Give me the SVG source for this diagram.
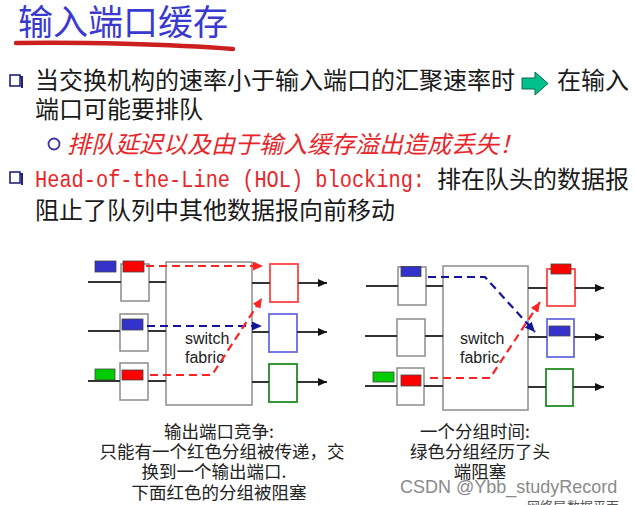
<svg xmlns="http://www.w3.org/2000/svg" width="635" height="505" viewBox="0 0 635 505">
<style>
.cjk{font-family:"Noto Sans CJK SC","Noto Sans",sans-serif}
.body{font-size:24px;fill:#1a1a1a}
.cap{font-size:17.5px;fill:#222;text-anchor:middle}
.sf{font-family:"Liberation Sans",Arial,sans-serif;font-size:16px;fill:#222}
.ibox{fill:#fff;stroke:#8c8c8c;stroke-width:1.5}
.fab{fill:#fff;stroke:#8c8c8c;stroke-width:1.5}
.ln{stroke:#333;stroke-width:2;fill:none}
.pk{stroke:#444;stroke-width:0.8}
.red{fill:#ff0000}
.blu{fill:#3333cc}
.grn{fill:#00cc00}
.obr{fill:#fff;stroke:#ff4444;stroke-width:1.8}
.obb{fill:#fff;stroke:#6a6ae0;stroke-width:1.8}
.obg{fill:#fff;stroke:#228b22;stroke-width:1.8}
.dr{stroke:#ff2222;stroke-width:2.2;stroke-dasharray:8 5;fill:none}
.db{stroke:#14149a;stroke-width:2.2;stroke-dasharray:8 5;fill:none}
.bul{fill:#fff;stroke:#22227a;stroke-width:1.6}
</style>
<defs>
<marker id="ak" markerWidth="9" markerHeight="8" refX="9" refY="4" orient="auto" markerUnits="userSpaceOnUse"><path d="M0,0 L9,4 L0,8 z" fill="#111"/></marker>
<marker id="ar" markerWidth="10" markerHeight="9" refX="10" refY="4.5" orient="auto" markerUnits="userSpaceOnUse"><path d="M0,0 L10,4.5 L0,9 z" fill="#ff2222"/></marker>
<marker id="ab" markerWidth="10" markerHeight="9" refX="10" refY="4.5" orient="auto" markerUnits="userSpaceOnUse"><path d="M0,0 L10,4.5 L0,9 z" fill="#14149a"/></marker>
</defs>

<g id="title">
<text x="18" y="35" class="cjk" font-size="35" fill="#3a3ad0">输入端口缓存</text>
<path d="M16,43 C80,42 170,44 233,49" stroke="#cc1f1f" stroke-width="4.5" fill="none" stroke-linecap="round"/>
</g>

<g id="bullets">
<path d="M12,77 H22 V88" stroke="#22227a" stroke-width="2" fill="none"/>
<rect x="10" y="75" width="10" height="11" class="bul"/>
<text x="35" y="89" class="cjk body">当交换机构的速率小于输入端口的汇聚速率时</text>
<path d="M522,78 H535 V72 L548,83.5 L535,95 V89 H522 Z" fill="#00c08c" stroke="#0a6a4a" stroke-width="1"/>
<text x="557" y="89" class="cjk body">在输入</text>
<text x="35" y="118" class="cjk body">端口可能要排队</text>
<circle cx="54" cy="144" r="5.5" fill="#fff" stroke="#3333aa" stroke-width="1.8"/>
<text x="67" y="153" class="cjk" font-size="24" fill="#e8262a" font-style="italic">排队延迟以及由于输入缓存溢出造成丢失！</text>
<path d="M12,174 H22 V185" stroke="#22227a" stroke-width="2" fill="none"/>
<rect x="10" y="172" width="10" height="11" class="bul"/>
<text x="35" y="187" font-family="'Liberation Mono',monospace" font-size="23" fill="#e8262a" textLength="390" lengthAdjust="spacingAndGlyphs">Head-of-the-Line (HOL) blocking:</text>
<text x="437" y="188" class="cjk body">排在队头的数据报</text>
<text x="35" y="219" class="cjk body">阻止了队列中其他数据报向前移动</text>
</g>

<g id="left-inputs">
<rect x="121" y="264" width="28" height="37" class="ibox"/>
<rect x="120" y="314" width="28" height="37" class="ibox"/>
<rect x="120" y="363" width="28" height="37" class="ibox"/>
</g>
<g id="left-fabric">
<rect x="166" y="262" width="86" height="143" class="fab"/>
<text x="185" y="344" class="sf">switch</text>
<text x="185" y="363" class="sf">fabric</text>
</g>
<g id="left-outputs">
<rect x="270" y="264" width="28" height="38" class="obr"/>
<rect x="269" y="314" width="28" height="38" class="obb"/>
<rect x="269" y="364" width="28" height="38" class="obg"/>
</g>
<g id="left-packets">
<rect x="95" y="261" width="21" height="11" class="pk blu"/>
<rect x="123" y="261" width="21" height="11" class="pk red"/>
<rect x="122" y="319" width="21" height="11" class="pk blu"/>
<rect x="122" y="370" width="21" height="10" class="pk red"/>
<rect x="95" y="369" width="20" height="11" class="pk grn"/>
</g>

<g id="right-inputs">
<rect x="398" y="267" width="28" height="38" class="ibox"/>
<rect x="397" y="319" width="28" height="37" class="ibox"/>
<rect x="397" y="368" width="27" height="37" class="ibox"/>
</g>
<g id="right-fabric">
<rect x="443" y="266" width="85" height="144" class="fab"/>
<text x="460" y="344" class="sf">switch</text>
<text x="460" y="363" class="sf">fabric</text>
</g>
<g id="right-outputs">
<rect x="547" y="269" width="28" height="37" class="obr"/>
<rect x="547" y="319" width="27" height="38" class="obb"/>
<rect x="546" y="369" width="27" height="37" class="obg"/>
</g>
<g id="right-packets">
<rect x="401" y="266.5" width="20" height="10" class="pk blu"/>
<rect x="401" y="375" width="20" height="11" class="pk red"/>
<rect x="373" y="372" width="21" height="10" class="pk grn"/>
<rect x="551" y="264" width="20" height="10" class="pk red"/>
<rect x="549" y="326" width="21" height="10" class="pk blu"/>
</g>

<g id="connectors">
<path d="M88,282 H121 M149,282 H166 M88,331 H120 M148,331 H166 M88,381 H120 M148,381 H166" class="ln"/>
<path d="M252,283 H270 M252,332 H269 M252,382 H269" class="ln"/>
<path d="M298,283 H327" class="ln" marker-end="url(#ak)"/>
<path d="M297,332 H327" class="ln" marker-end="url(#ak)"/>
<path d="M297,382 H327" class="ln" marker-end="url(#ak)"/>
<path d="M146,266 H263" class="dr" marker-end="url(#ar)"/>
<path d="M147,326 H262" class="db" marker-end="url(#ab)"/>
<path d="M150,375 H212 L262,298" class="dr" marker-end="url(#ar)"/>

<path d="M366,286 H398 M426,286 H443 M365,336 H397 M425,336 H443 M365,386 H397 M424,386 H443" class="ln"/>
<path d="M528,288 H547 M528,337 H547 M528,387 H546" class="ln"/>
<path d="M575,288 H604" class="ln" marker-end="url(#ak)"/>
<path d="M574,337 H604" class="ln" marker-end="url(#ak)"/>
<path d="M573,387 H604" class="ln" marker-end="url(#ak)"/>
<path d="M430,378 H490 L540,302" class="dr" marker-end="url(#ar)"/>
<path d="M428,277 H485 L535,332" class="db" marker-end="url(#ab)"/>
</g>

<g id="captions" class="cjk">
<text x="219" y="438" class="cap">输出端口竞争:</text>
<text x="222" y="458" class="cap">只能有一个红色分组被传递，交</text>
<text x="214" y="478" class="cap">换到一个输出端口.</text>
<text x="219" y="499" class="cap">下面红色的分组被阻塞</text>
<text x="475" y="438" class="cap">一个分组时间:</text>
<text x="480" y="458" class="cap">绿色分组经历了头</text>
<text x="480" y="478" class="cap">端阻塞</text>
</g>

<g id="footer">
<text x="400" y="492.5" font-family="'Liberation Sans',Arial,sans-serif" font-size="18" fill="#8a8a8a">CSDN @Ybb_studyRecord</text>
<text class="cjk" font-size="13" fill="#555" y="511"><tspan x="527">网络层</tspan><tspan x="567">数据平面</tspan></text>
</g>
</svg>
